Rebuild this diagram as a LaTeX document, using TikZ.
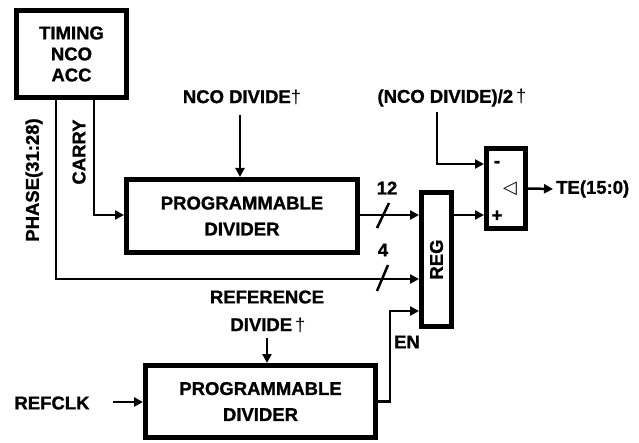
\documentclass[tikz,border=0pt]{standalone}
\usepackage{fontspec}
\setmainfont{Liberation Sans}[BoldFeatures={FakeBold=1.2}]
\newfontfamily\dejavu{DejaVu Sans}
\usetikzlibrary{arrows.meta}
\begin{document}
\begin{tikzpicture}[x=1pt,y=-1pt,
  blk/.style={draw, line width=5pt, inner sep=0pt, font=\fontsize{18.5}{21}\selectfont\bfseries, align=center},
  lbl/.style={font=\fontsize{18.5}{21}\selectfont\bfseries, inner sep=0pt, align=center},
  wire/.style={line width=2.5pt},
  arr/.style={wire, -{Triangle[length=9pt,width=9pt]}}]
\useasboundingbox (0,0) rectangle (639,443);
% blocks
\node[blk, minimum width=110pt, minimum height=87pt] (timing) at (71.5,54) {TIMING\\NCO\\ACC};
\node[blk, minimum width=231pt, minimum height=73pt] (pd1) at (242,216) {PROGRAMMABLE\\[5pt]DIVIDER};
\node[blk, minimum width=30pt, minimum height=134pt] (reg) at (436.5,259.5) {};
\node[lbl, rotate=90] (regtxt) at (reg.center) {REG};
\node[blk, minimum width=39pt, minimum height=80pt] (sub) at (506,188.5) {};
\node[blk, minimum width=230pt, minimum height=72pt] (pd2) at (260.5,401.5) {PROGRAMMABLE\\[5pt]DIVIDER};
% labels
\node[lbl] (ncod) at (242,97) {NCO DIVIDE{\mdseries †}};
\node[lbl] (half) at (452,98) {(NCO DIVIDE)/2{\mdseries\,†}};
\node[lbl, rotate=90] (phase) at (34,180) {PHASE(31:28)};
\node[lbl, rotate=90] (carry) at (79,152) {CARRY};
\node[lbl] (twelve) at (387,188) {12};
\node[lbl] (four) at (383,250) {4};
\node[lbl] (ref1) at (267,297) {REFERENCE};
\node[lbl] (ref2) at (268,325) {DIVIDE{\mdseries\,†}};
\node[lbl] (en) at (407,342) {EN};
\node[lbl] (refclk) at (52,403) {REFCLK};
\node[lbl, anchor=west] (te) at (556,189) {TE(15:0)};
\node[lbl] (minus) at (497,164) {-};
\node[lbl] (plus) at (497,216) {+};
\node[inner sep=0pt, font=\dejavu\fontsize{18}{18}\selectfont] (delta) at (510,189) {◁};
% coordinates
\coordinate (carryc) at (94,215);
\coordinate (phasec) at (56,279);
\coordinate (enc) at (390,311);
\coordinate (mtop) at (437,112);
\coordinate (mc) at (437,164);
\coordinate (pc) at (460,215);
\coordinate (ncotop) at (240,115);
\coordinate (reftop) at (267,338);
\coordinate (clkstart) at (113,402);
% connectors
\draw[arr] (timing.south -| carryc) |- (pd1.west |- carryc);
\draw[arr] (timing.south -| phasec) |- (reg.west |- phasec);
\draw[arr] (ncotop) -- (pd1.north -| ncotop);
\draw[arr] (pd1.east |- pc) -- (reg.west |- pc);
\draw[arr] (reg.east |- pc) -- (sub.west |- pc);
\draw[arr] (mtop) |- (sub.west |- mc);
\draw[arr] (sub.east) -- ([xshift=-3pt]te.west);
\draw[arr] (pd2.east) -| (enc) -- (reg.west |- enc);
\draw[arr] (reftop) -- (pd2.north -| reftop);
\draw[arr] (clkstart) -- (pd2.west |- clkstart);
% bus slashes
\draw[wire] (377,228) -- (389,203);
\draw[wire] (377,291) -- (388,265);
\end{tikzpicture}
\end{document}
